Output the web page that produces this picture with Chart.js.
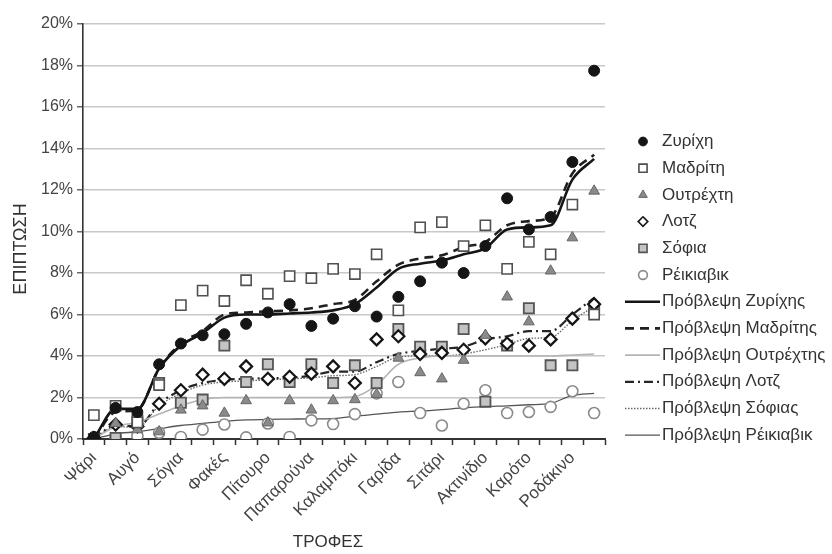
<!DOCTYPE html>
<html><head><meta charset="utf-8">
<script src="https://cdn.jsdelivr.net/npm/chart.js@4.4.0/dist/chart.umd.min.js"></script>
<style>html,body{margin:0;padding:0;background:#fff}#wrap{width:832px;height:554px;position:relative}</style>
</head><body><div id="wrap"><canvas id="c" width="832" height="554"></canvas></div>
<script>
// 24 food categories, only every other one carries a printed label
const categories = ['Ψάρι','','Αυγό','','Σόγια','','Φακές','','Πίτουρο','','Παπαρούνα','',
                    'Καλαμπόκι','','Γαρίδα','','Σιτάρι','','Ακτινίδιο','','Καρότο','','Ροδάκινο',''];
const yTicks = [0,2,4,6,8,10,12,14,16,18,20];
const xTitle = 'ΤΡΟΦΕΣ';
const yTitle = 'ΕΠΙΠΤΩΣΗ';

// observed incidence (%)
const zurich    = [0.1,1.5,1.3,3.6,4.6,5.0,5.05,5.55,6.1,6.5,5.45,5.8,6.4,5.9,6.85,7.6,8.5,8.0,9.3,11.6,10.1,10.7,13.35,17.75];
const madrid    = [1.15,1.6,0.8,2.6,6.45,7.15,6.65,7.65,7.0,7.85,7.75,8.2,7.95,8.9,6.2,10.2,10.45,9.3,10.3,8.2,9.5,8.9,11.3,6.0];
const utrecht   = [0.0,0.75,0.45,0.35,1.4,1.6,1.25,1.85,0.78,1.85,1.4,1.85,1.9,2.15,3.9,3.2,2.9,3.8,5.0,6.85,5.65,8.1,9.7,11.95];
const lotz      = [0.05,0.7,0.6,1.7,2.35,3.1,2.9,3.5,2.9,3.0,3.15,3.5,2.7,4.8,4.95,4.1,4.15,4.3,4.85,4.6,4.5,4.8,5.8,6.5];
const sofia     = [0.0,0.05,0.9,2.7,1.75,1.9,4.5,2.75,3.6,2.75,3.6,2.7,3.55,2.7,5.3,4.45,4.45,5.3,1.8,4.5,6.3,3.55,3.55,6.2];
const reykjavik = [0.0,0.05,0.15,0.3,0.1,0.45,0.7,0.08,0.75,0.1,0.9,0.72,1.2,2.2,2.75,1.25,0.65,1.7,2.35,1.25,1.3,1.55,2.3,1.25];

// predicted incidence (%)
const predZurich    = [0,1.45,1.45,3.4,4.5,5.1,5.85,6.0,6.0,6.05,6.1,6.2,6.5,7.3,8.2,8.45,8.6,8.9,9.2,10.1,10.2,10.3,12.5,13.5];
const predMadrid    = [0,1.3,1.4,3.4,4.6,5.2,6.0,6.1,6.15,6.2,6.3,6.5,6.7,7.6,8.4,8.7,8.85,9.25,9.5,10.3,10.5,10.7,12.8,13.7];
const predUtrecht   = [0,0.6,0.8,1.2,1.6,1.9,2.0,2.0,2.0,2.0,2.0,2.0,2.05,2.6,3.6,3.9,4.0,4.0,4.0,4.0,4.0,4.0,4.05,4.1];
const predLotz      = [0,0.67,0.6,1.7,2.35,2.7,2.85,2.9,2.93,2.95,3.05,3.25,3.25,3.7,4.1,4.25,4.35,4.45,4.8,4.95,5.2,5.2,6.0,6.8];
const predSofia     = [0,0.6,0.55,1.6,2.2,2.6,2.75,2.8,2.85,2.9,2.95,3.05,3.1,3.5,3.95,4.0,4.0,4.1,4.3,4.55,4.85,4.9,5.7,6.4];
const predReykjavik = [0,0.25,0.35,0.5,0.65,0.75,0.85,0.92,0.95,0.96,0.97,0.98,1.1,1.2,1.3,1.35,1.42,1.5,1.56,1.6,1.65,1.72,2.1,2.2];

const FONT = 'Liberation Sans, Arial, sans-serif';

function pts(label, data, style, radius, fill, border, bw) {
  return {label, data, showLine:false, pointStyle:style, pointRadius:radius, pointHoverRadius:radius,
    pointBackgroundColor:fill, pointBorderColor:border, pointBorderWidth:bw,
    backgroundColor:fill, borderColor:border, borderWidth:bw};
}
function line(label, data, color, width, dash) {
  return {label, data, borderColor:color, borderWidth:width, borderDash:dash, pointRadius:0,
    pointHoverRadius:0, cubicInterpolationMode:'monotone', fill:false, backgroundColor:color};
}

const datasets = [
  pts('Ζυρίχη', zurich, 'circle', 5.5, '#151515', '#151515', 1),
  pts('Μαδρίτη', madrid, 'rect', 7.2, '#ffffff', '#505050', 1.6),
  pts('Ουτρέχτη', utrecht, 'triangle', 6.2, '#8a8a8a', '#666666', 1),
  pts('Λοτζ', lotz, 'rectRot', 6, '#ffffff', '#151515', 2.2),
  pts('Σόφια', sofia, 'rect', 7.2, '#c4c4c4', '#555555', 1.8),
  pts('Ρέικιαβικ', reykjavik, 'circle', 5.5, '#ffffff', '#8a8a8a', 1.6),
  line('Πρόβλεψη Ζυρίχης', predZurich, '#151515', 2.6, []),
  line('Πρόβλεψη Μαδρίτης', predMadrid, '#202020', 2.6, [9,6]),
  line('Πρόβλεψη Ουτρέχτης', predUtrecht, '#b4b4b4', 1.6, []),
  line('Πρόβλεψη Λοτζ', predLotz, '#252525', 2.2, [9,4,2,4]),
  line('Πρόβλεψη Σόφιας', predSofia, '#6a6a6a', 1.4, [1.5,1.5]),
  line('Πρόβλεψη Ρέικιαβικ', predReykjavik, '#555555', 1.3, [])
];

function drawMarker(ctx, ds, x, y) {
  const r = ds.pointRadius;
  ctx.beginPath();
  if (ds.pointStyle === 'circle') ctx.arc(x, y, r * 0.8, 0, Math.PI * 2);
  else if (ds.pointStyle === 'rect') { const s = r * Math.SQRT1_2 * 0.8; ctx.rect(x - s, y - s, 2 * s, 2 * s); }
  else if (ds.pointStyle === 'rectRot') { const s = r * 0.8; ctx.moveTo(x, y - s); ctx.lineTo(x + s, y); ctx.lineTo(x, y + s); ctx.lineTo(x - s, y); ctx.closePath(); }
  else if (ds.pointStyle === 'triangle') { const s = r * 0.8; ctx.moveTo(x, y - s); ctx.lineTo(x + s * 0.866, y + s * 0.5); ctx.lineTo(x - s * 0.866, y + s * 0.5); ctx.closePath(); }
  ctx.fillStyle = ds.pointBackgroundColor; ctx.fill();
  ctx.lineWidth = Math.min(ds.pointBorderWidth, 1.6); ctx.strokeStyle = ds.pointBorderColor; ctx.setLineDash([]); ctx.stroke();
}

const sidePlugin = {
  id: 'side',
  afterDraw(chart) {
    const ctx = chart.ctx;
    ctx.save();
    const top = 141.5, step = 26.7;
    ctx.font = '17px ' + FONT; ctx.textBaseline = 'middle'; ctx.textAlign = 'left';
    chart.data.datasets.forEach((ds, k) => {
      const y = top + k * step;
      if (ds.showLine === false) drawMarker(ctx, ds, 643, y);
      else {
        ctx.beginPath(); ctx.setLineDash(ds.borderDash || []); ctx.lineWidth = ds.borderWidth;
        ctx.strokeStyle = ds.borderColor; ctx.moveTo(625, y); ctx.lineTo(660, y); ctx.stroke();
      }
      ctx.setLineDash([]);
      ctx.fillStyle = '#333'; ctx.fillText(ds.label, 662, y);
    });
    // axis titles
    ctx.fillStyle = '#333'; ctx.textAlign = 'center';
    ctx.font = '18px ' + FONT;
    ctx.save(); ctx.translate(21, 249); ctx.rotate(-Math.PI / 2); ctx.fillText(yTitle, 0, 0); ctx.restore();
    ctx.font = '17px ' + FONT;
    ctx.fillText(xTitle, 328, 542);
    ctx.restore();
  }
};

new Chart(document.getElementById('c'), {
  type: 'line',
  data: { labels: categories, datasets },
  plugins: [sidePlugin],
  options: {
    responsive: false, animation: false, devicePixelRatio: 1,
    layout: { padding: { top: 24, right: 227, left: 0, bottom: 0 } },
    plugins: { legend: { display: false }, tooltip: { enabled: false } },
    scales: {
      x: {
        offset: true,
        afterFit: s => { s.height = 115; },
        grid: { display: true, drawOnChartArea: false, drawTicks: true, tickLength: 6, offset: true, tickColor: '#333', tickWidth: 1.5 },
        border: { display: true, color: '#333', width: 2 },
        ticks: { autoSkip: false, maxRotation: 45, minRotation: 45, padding: 3, color: '#444', font: { family: FONT, size: 17 } }
      },
      y: {
        min: 0, max: 20,
        afterFit: s => { s.width = 83; },
        afterBuildTicks: s => { s.ticks = yTicks.map(v => ({ value: v })); },
        grid: { color: '#c8c8c8', lineWidth: 1.6, tickLength: 6, tickColor: '#444', tickWidth: 1.2 },
        border: { display: true, color: '#333', width: 1.6 },
        ticks: { padding: 4, color: '#444', font: { family: FONT, size: 16 }, callback: v => v + '%' }
      }
    }
  }
});
</script></body></html>
